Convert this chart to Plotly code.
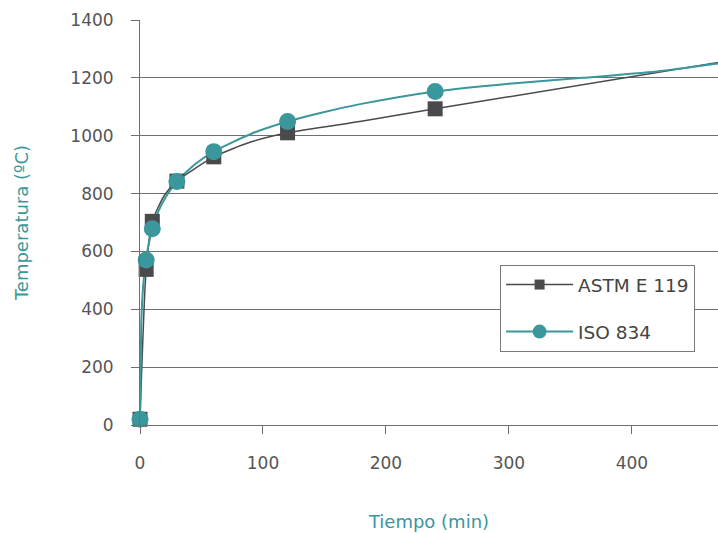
import plotly.graph_objects as go

# ASTM E 119 curve (time min, temperature ºC)
astm_t = [0, 5, 10, 20, 30, 60, 90, 120, 180, 240, 480]
astm_T = [20, 538, 704, 795, 843, 927, 978, 1010, 1050, 1093, 1260]
astm_mt = [0, 5, 10, 30, 60, 120, 240]
astm_mT = [20, 538, 704, 843, 927, 1010, 1093]

# ISO 834 curve
iso_t = [0, 1, 2, 3, 5, 10, 15, 20, 30, 45, 60, 90, 120, 150, 180, 240, 300, 360, 420, 480]
iso_T = [20, 349, 444, 502, 576, 678, 739, 781, 842, 902, 945, 1006, 1049, 1082, 1110, 1153, 1180, 1200, 1222, 1255]
iso_mt = [0, 5, 10, 30, 60, 120, 240]
iso_mT = [20, 570, 678, 842, 945, 1049, 1153]

x_ticks = [0, 100, 200, 300, 400]
y_ticks = [0, 200, 400, 600, 800, 1000, 1200, 1400]

TEAL = "#3a979c"
DARK = "#4a4a4c"
GRID = "#6f6f6f"
TXT = "#555555"
FONT = "DejaVu Sans"

fig = go.Figure()
fig.add_trace(go.Scatter(x=astm_t, y=astm_T, mode="lines", line=dict(color=DARK, width=1.5, shape="spline", smoothing=0.6),
                         showlegend=False, hoverinfo="skip"))
fig.add_trace(go.Scatter(x=iso_t, y=iso_T, mode="lines", line=dict(color=TEAL, width=2, shape="spline", smoothing=0.6),
                         showlegend=False, hoverinfo="skip"))
fig.add_trace(go.Scatter(x=astm_mt, y=astm_mT, mode="markers", name="ASTM E 119",
                         marker=dict(symbol="square", size=15, color=DARK), cliponaxis=False, showlegend=False))
fig.add_trace(go.Scatter(x=iso_mt, y=iso_mT, mode="markers", name="ISO 834",
                         marker=dict(symbol="circle", size=17, color=TEAL), cliponaxis=False, showlegend=False))
# legend entries
fig.add_trace(go.Scatter(x=[None], y=[None], mode="lines+markers", name="ASTM E 119", legendgroup="a",
                         line=dict(color=DARK, width=1.5), marker=dict(symbol="square", size=10, color=DARK)))
fig.add_trace(go.Scatter(x=[None], y=[None], mode="lines+markers", name="ISO 834", legendgroup="b",
                         line=dict(color=TEAL, width=2), marker=dict(symbol="circle", size=14, color=TEAL)))

fig.update_layout(
    width=718, height=533,
    margin=dict(l=140, r=0, t=20, b=108),
    plot_bgcolor="white", paper_bgcolor="white",
    font=dict(family=FONT, size=17, color=TXT),
    legend=dict(x=0.623, y=0.395, xanchor="left", yanchor="top",
                bordercolor="#7a7a7a", borderwidth=1, bgcolor="white",
                font=dict(size=18.5, color="#444444"), itemwidth=67,
                tracegroupgap=20),
)
fig.update_xaxes(range=[0, 470], tickvals=x_ticks, showgrid=False, zeroline=False, automargin=False,
                 showline=True, linecolor=GRID, linewidth=1,
                 ticks="outside", ticklen=8, tickcolor=GRID, ticklabelstandoff=15,
                 title=dict(text="Tiempo (min)", font=dict(color=TEAL, size=18), standoff=42))
fig.update_yaxes(range=[0, 1400], tickvals=y_ticks, showgrid=True, gridcolor=GRID, gridwidth=1,
                 zeroline=False, showline=True, linecolor=GRID, linewidth=1, automargin=False,
                 ticks="outside", ticklen=8, tickcolor=GRID, ticklabelstandoff=14,
                 title=dict(text="Temperatura (ºC)", font=dict(color=TEAL, size=18), standoff=37))

fig.write_html("out.html", config={"displayModeBar": False},
               post_script="document.body.style.margin='0';document.body.style.overflow='hidden';")
